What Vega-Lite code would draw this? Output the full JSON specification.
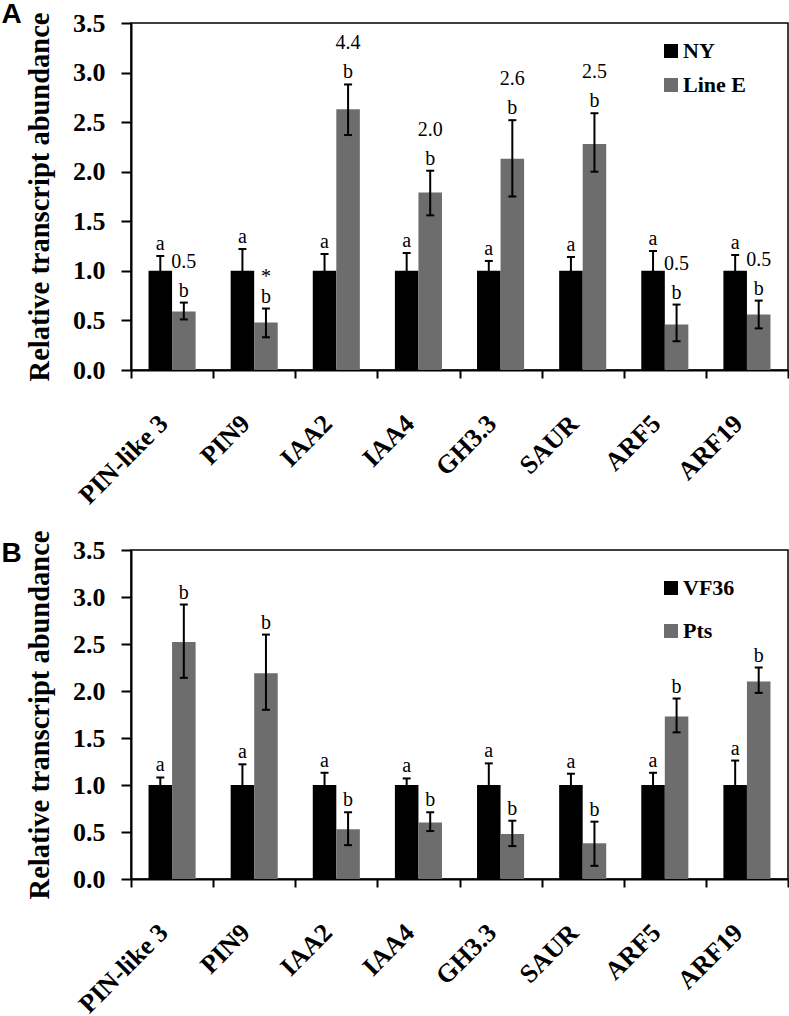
{
  "$schema": "https://vega.github.io/schema/vega-lite/v6.json",
  "padding": {"left": 0, "top": 0, "right": 0, "bottom": 0},
  "background": "white",
  "datasets": {
    "A": [
      {"gene": "PIN-like 3", "grp": "NY", "mean": 1.0, "lo": 0.85, "hi": 1.15, "sig": "a"},
      {"gene": "PIN-like 3", "grp": "Line E", "mean": 0.59, "lo": 0.51, "hi": 0.68, "sig": "b", "fold": "0.5"},
      {"gene": "PIN9", "grp": "NY", "mean": 1.0, "lo": 0.78, "hi": 1.22, "sig": "a"},
      {"gene": "PIN9", "grp": "Line E", "mean": 0.48, "lo": 0.33, "hi": 0.62, "sig": "b", "star": "*"},
      {"gene": "IAA2", "grp": "NY", "mean": 1.0, "lo": 0.83, "hi": 1.17, "sig": "a"},
      {"gene": "IAA2", "grp": "Line E", "mean": 2.63, "lo": 2.37, "hi": 2.88, "sig": "b", "fold": "4.4"},
      {"gene": "IAA4", "grp": "NY", "mean": 1.0, "lo": 0.82, "hi": 1.18, "sig": "a"},
      {"gene": "IAA4", "grp": "Line E", "mean": 1.79, "lo": 1.56, "hi": 2.01, "sig": "b", "fold": "2.0"},
      {"gene": "GH3.3", "grp": "NY", "mean": 1.0, "lo": 0.9, "hi": 1.1, "sig": "a"},
      {"gene": "GH3.3", "grp": "Line E", "mean": 2.13, "lo": 1.75, "hi": 2.52, "sig": "b", "fold": "2.6"},
      {"gene": "SAUR", "grp": "NY", "mean": 1.0, "lo": 0.86, "hi": 1.14, "sig": "a"},
      {"gene": "SAUR", "grp": "Line E", "mean": 2.28, "lo": 2.0, "hi": 2.59, "sig": "b", "fold": "2.5"},
      {"gene": "ARF5", "grp": "NY", "mean": 1.0, "lo": 0.8, "hi": 1.2, "sig": "a"},
      {"gene": "ARF5", "grp": "Line E", "mean": 0.46, "lo": 0.29, "hi": 0.66, "sig": "b", "fold": "0.5"},
      {"gene": "ARF19", "grp": "NY", "mean": 1.0, "lo": 0.84, "hi": 1.16, "sig": "a"},
      {"gene": "ARF19", "grp": "Line E", "mean": 0.56, "lo": 0.42, "hi": 0.7, "sig": "b", "fold": "0.5"}
    ],
    "B": [
      {"gene": "PIN-like 3", "grp": "VF36", "mean": 1.0, "lo": 0.92, "hi": 1.08, "sig": "a"},
      {"gene": "PIN-like 3", "grp": "Pts", "mean": 2.52, "lo": 2.14, "hi": 2.92, "sig": "b"},
      {"gene": "PIN9", "grp": "VF36", "mean": 1.0, "lo": 0.78, "hi": 1.22, "sig": "a"},
      {"gene": "PIN9", "grp": "Pts", "mean": 2.19, "lo": 1.8, "hi": 2.6, "sig": "b"},
      {"gene": "IAA2", "grp": "VF36", "mean": 1.0, "lo": 0.87, "hi": 1.13, "sig": "a"},
      {"gene": "IAA2", "grp": "Pts", "mean": 0.53, "lo": 0.36, "hi": 0.71, "sig": "b"},
      {"gene": "IAA4", "grp": "VF36", "mean": 1.0, "lo": 0.93, "hi": 1.07, "sig": "a"},
      {"gene": "IAA4", "grp": "Pts", "mean": 0.6, "lo": 0.51, "hi": 0.71, "sig": "b"},
      {"gene": "GH3.3", "grp": "VF36", "mean": 1.0, "lo": 0.77, "hi": 1.23, "sig": "a"},
      {"gene": "GH3.3", "grp": "Pts", "mean": 0.48, "lo": 0.35, "hi": 0.62, "sig": "b"},
      {"gene": "SAUR", "grp": "VF36", "mean": 1.0, "lo": 0.88, "hi": 1.12, "sig": "a"},
      {"gene": "SAUR", "grp": "Pts", "mean": 0.38, "lo": 0.14, "hi": 0.61, "sig": "b"},
      {"gene": "ARF5", "grp": "VF36", "mean": 1.0, "lo": 0.87, "hi": 1.13, "sig": "a"},
      {"gene": "ARF5", "grp": "Pts", "mean": 1.73, "lo": 1.56, "hi": 1.92, "sig": "b"},
      {"gene": "ARF19", "grp": "VF36", "mean": 1.0, "lo": 0.74, "hi": 1.26, "sig": "a"},
      {"gene": "ARF19", "grp": "Pts", "mean": 2.1, "lo": 1.98, "hi": 2.25, "sig": "b"}
    ]
  },
  "config": {
    "view": {"stroke": "#000", "strokeWidth": 1.5},
    "axis": {"grid": false, "domainColor": "#000", "domainWidth": 2, "tickColor": "#000", "tickWidth": 2, "labelColor": "#000", "titleColor": "#000"},
    "axisX": {"title": null, "labelAngle": -45, "labelAlign": "right", "labelBaseline": "top", "labelFont": "Liberation Serif", "labelFontWeight": "bold", "labelFontSize": 26, "tickBand": "extent", "tickSize": 8, "labelPadding": 32, "labelOffset": -18},
    "axisY": {"labelFont": "Liberation Serif", "labelFontWeight": "bold", "labelFontSize": 26, "tickSize": 10, "labelPadding": 16, "titleFont": "Liberation Serif", "titleFontWeight": "bold", "titleFontSize": 28.5, "titlePadding": 18},
    "legend": {"labelFont": "Liberation Serif", "labelFontWeight": "bold", "labelFontSize": 22, "labelColor": "#000", "symbolType": "square", "symbolSize": 196, "symbolStrokeWidth": 0, "symbolOpacity": 1, "labelOffset": 1},
    "title": {"font": "Liberation Sans", "fontSize": 28, "fontWeight": "bold", "color": "#000", "anchor": "start", "frame": "bounds", "baseline": "alphabetic"}
  },
  "spacing": 19,
  "vconcat": [
    {
      "width": 657,
      "height": 347,
      "title": {"text": "A", "dx": -24, "offset": -19},
      "data": {"name": "A"},
      "encoding": {
        "x": {"field": "gene", "type": "nominal", "sort": ["PIN-like 3", "PIN9", "IAA2", "IAA4", "GH3.3", "SAUR", "ARF5", "ARF19"], "scale": {"paddingInner": 0, "paddingOuter": 0}},
        "xOffset": {"field": "grp", "type": "nominal", "sort": ["NY", "Line E"], "scale": {"domain": ["NY", "Line E"], "paddingInner": 0, "paddingOuter": 0.745}}
      },
      "layer": [
        {
          "mark": {"type": "bar"},
          "encoding": {
            "y": {"field": "mean", "type": "quantitative", "scale": {"domain": [0, 3.5], "nice": false}, "axis": {"title": "Relative transcript abundance", "values": [0, 0.5, 1, 1.5, 2, 2.5, 3, 3.5], "format": ".1f"}},
            "color": {"field": "grp", "type": "nominal", "sort": ["NY", "Line E"], "scale": {"domain": ["NY", "Line E"], "range": ["#000000", "#6d6d6d"]}, "legend": {"title": null, "orient": "none", "legendX": 529, "legendY": 17, "rowPadding": 12}}
          }
        },
        {
          "mark": {"type": "rule", "color": "#000", "strokeWidth": 2},
          "encoding": {"y": {"field": "lo", "type": "quantitative"}, "y2": {"field": "hi"}}
        },
        {
          "mark": {"type": "tick", "color": "#000", "thickness": 2, "size": 8, "opacity": 1},
          "encoding": {"y": {"field": "hi", "type": "quantitative"}}
        },
        {
          "mark": {"type": "tick", "color": "#000", "thickness": 2, "size": 8, "opacity": 1},
          "encoding": {"y": {"field": "lo", "type": "quantitative"}}
        },
        {
          "mark": {"type": "text", "font": "Liberation Serif", "fontSize": 20, "baseline": "alphabetic", "dy": -6, "color": "#000"},
          "encoding": {"y": {"field": "hi", "type": "quantitative"}, "text": {"field": "sig"}}
        },
        {
          "transform": [{"filter": "datum.fold"}],
          "mark": {"type": "text", "font": "Liberation Serif", "fontSize": 20, "baseline": "alphabetic", "dy": -35, "color": "#000"},
          "encoding": {"y": {"field": "hi", "type": "quantitative"}, "text": {"field": "fold"}}
        },
        {
          "transform": [{"filter": "datum.star"}],
          "mark": {"type": "text", "font": "Liberation Serif", "fontSize": 20, "baseline": "alphabetic", "dy": -26, "color": "#000"},
          "encoding": {"y": {"field": "hi", "type": "quantitative"}, "text": {"field": "star"}}
        }
      ]
    },
    {
      "width": 657,
      "height": 329,
      "title": {"text": "B", "dx": -24, "offset": -38},
      "data": {"name": "B"},
      "encoding": {
        "x": {"field": "gene", "type": "nominal", "sort": ["PIN-like 3", "PIN9", "IAA2", "IAA4", "GH3.3", "SAUR", "ARF5", "ARF19"], "scale": {"paddingInner": 0, "paddingOuter": 0}},
        "xOffset": {"field": "grp", "type": "nominal", "sort": ["VF36", "Pts"], "scale": {"domain": ["VF36", "Pts"], "paddingInner": 0, "paddingOuter": 0.745}}
      },
      "layer": [
        {
          "mark": {"type": "bar"},
          "encoding": {
            "y": {"field": "mean", "type": "quantitative", "scale": {"domain": [0, 3.5], "nice": false}, "axis": {"title": "Relative transcript abundance", "values": [0, 0.5, 1, 1.5, 2, 2.5, 3, 3.5], "format": ".1f"}},
            "color": {"field": "grp", "type": "nominal", "sort": ["VF36", "Pts"], "scale": {"domain": ["VF36", "Pts"], "range": ["#000000", "#6d6d6d"]}, "legend": {"title": null, "orient": "none", "legendX": 529, "legendY": 27, "rowPadding": 21}}
          }
        },
        {
          "mark": {"type": "rule", "color": "#000", "strokeWidth": 2},
          "encoding": {"y": {"field": "lo", "type": "quantitative"}, "y2": {"field": "hi"}}
        },
        {
          "mark": {"type": "tick", "color": "#000", "thickness": 2, "size": 8, "opacity": 1},
          "encoding": {"y": {"field": "hi", "type": "quantitative"}}
        },
        {
          "mark": {"type": "tick", "color": "#000", "thickness": 2, "size": 8, "opacity": 1},
          "encoding": {"y": {"field": "lo", "type": "quantitative"}}
        },
        {
          "mark": {"type": "text", "font": "Liberation Serif", "fontSize": 20, "baseline": "alphabetic", "dy": -6, "color": "#000"},
          "encoding": {"y": {"field": "hi", "type": "quantitative"}, "text": {"field": "sig"}}
        }
      ]
    }
  ],
  "resolve": {"scale": {"color": "independent", "xOffset": "independent"}, "legend": {"color": "independent"}}
}
